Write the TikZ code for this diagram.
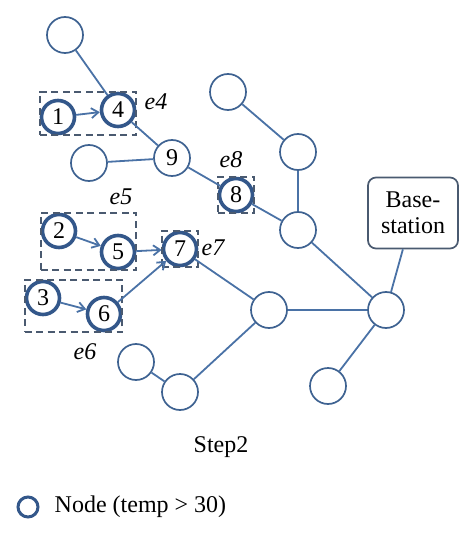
\documentclass[tikz,border=0pt]{standalone}
\usepackage{fontspec}
\setmainfont{Liberation Serif}
\usetikzlibrary{arrows.meta,positioning,fit}
\definecolor{wsnblue}{HTML}{4A72A6}
\definecolor{wsnring}{HTML}{3E6291}
\definecolor{wsnhot}{HTML}{33578A}
\definecolor{wsngray}{HTML}{4A5A70}
\tikzset{
  sensor/.style={circle, draw=wsnring, line width=1.7pt, minimum size=36pt, inner sep=0pt, font=\fontsize{24}{26}\selectfont},
  hotSensor/.style={sensor, draw=wsnhot, line width=3.6pt, minimum size=33pt},
  groupBox/.style={draw=wsngray, dash pattern=on 7pt off 4.5pt, line width=1.7pt, inner sep=0pt},
  baseBox/.style={draw=wsngray, rounded corners=8pt, line width=1.7pt, minimum width=90pt, minimum height=71pt, align=center, inner sep=2pt, font=\fontsize{24}{26}\selectfont},
  link/.style={draw=wsnblue, line width=1.8pt},
  hopArrow/.style={link, -{Straight Barb[length=7pt,width=10pt]}},
  edgeLabel/.style={font=\itshape\fontsize{24}{26}\selectfont, inner sep=0pt},
  plainLabel/.style={font=\fontsize{24}{26}\selectfont, inner sep=0pt}
}

\begin{document}
\begin{tikzpicture}[x=1pt, y=-1pt]
  \useasboundingbox (0,0) rectangle (474,537);

  % sensors that report
  \node[hotSensor] (n1) at (58,117) {1};
  \node[hotSensor] (n4) at (118,110) {4};
  \node[hotSensor] (n2) at (59,231) {2};
  \node[hotSensor] (n5) at (118,252) {5};
  \node[hotSensor] (n7) at (180,249) {7};
  \node[hotSensor] (n3) at (43,298) {3};
  \node[hotSensor] (n6) at (104,314) {6};
  \node[hotSensor] (n8) at (236,195) {8};

  % other sensors
  \node[sensor] (n9) at (172,158) {9};
  \node[sensor] (top) at (65,35) {};
  \node[sensor] (left) at (89,163) {};
  \node[sensor] (ra) at (228,92) {};
  \node[sensor] (rb) at (298,152) {};
  \node[sensor] (rc) at (298,230) {};
  \node[sensor] (mid) at (269,310) {};
  \node[sensor] (hub) at (386,310) {};
  \node[sensor] (low) at (328,386) {};
  \node[sensor] (ba) at (136,362) {};
  \node[sensor] (bb) at (180,392) {};
  \node[baseBox] (base) at (413,213) {Base-\\station};

  % groups
  \node[groupBox, fit=(n1)(n4)] (g4) {};
  \node[groupBox, fit=(n2)(n5)] (g5) {};
  \node[groupBox, fit=(n3)(n6)] (g6) {};
  \node[groupBox, fit=(n7)] (g7) {};
  \node[groupBox, fit=(n8)] (g8) {};

  \node[edgeLabel] (e4) at (156,102) {e4};
  \node[edgeLabel] (e5) at (121,197) {e5};
  \node[edgeLabel] (e6) at (85,352) {e6};
  \node[edgeLabel] (e7) at (213,248) {e7};
  \node[edgeLabel] (e8) at (231,160) {e8};

  % links
  \draw[link] (top) -- (n4);
  \draw[link] (n4) -- (n9);
  \draw[link] (left) -- (n9);
  \draw[link] (n9) -- (n8);
  \draw[link] (n8) -- (rc);
  \draw[link] (ra) -- (rb);
  \draw[link] (rb) -- (rc);
  \draw[link] (rc) -- (hub);
  \draw[link] (base) -- (hub);
  \draw[link] (mid) -- (hub);
  \draw[link] (hub) -- (low);
  \draw[link] (n7) -- (mid);
  \draw[link] (bb) -- (mid);
  \draw[link] (ba) -- (bb);

  \draw[hopArrow] (n1) -- (n4);
  \draw[hopArrow] (n2) -- (n5);
  \draw[hopArrow] (n5) -- (n7);
  \draw[hopArrow] (n3) -- (n6);
  \draw[hopArrow] (n6) -- (n7);

  \node[plainLabel] (step) at (221,447) {Step2};

  % legend
  \node[circle, draw=wsnhot, line width=3pt, minimum size=20pt, inner sep=0pt] (key) at (28,507) {};
  \node[plainLabel, anchor=west, right=15pt of key] (keytext) {Node (temp > 30)};
\end{tikzpicture}
\end{document}
